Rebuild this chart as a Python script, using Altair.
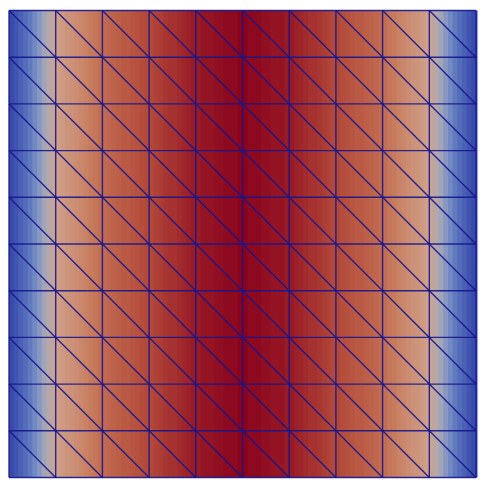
import altair as alt
import pandas as pd

# grid node positions (unit square, 10x10 cells)
grid_nodes = [0.0, 0.1, 0.2, 0.3, 0.4, 0.5, 0.6, 0.7, 0.8, 0.9, 1.0]

# colour-field value read across the square (strips of width 0.01, left to right)
field_values = [
    0.03, 0.09, 0.16, 0.22, 0.28, 0.34, 0.40, 0.47, 0.53, 0.59,
    0.63, 0.65, 0.67, 0.68, 0.70, 0.72, 0.74, 0.76, 0.77, 0.79,
    0.80, 0.81, 0.82, 0.83, 0.84, 0.84, 0.85, 0.86, 0.87, 0.88,
    0.88, 0.89, 0.90, 0.91, 0.92, 0.92, 0.93, 0.94, 0.95, 0.96,
    0.96, 0.97, 0.97, 0.97, 0.98, 0.98, 0.99, 0.99, 0.99, 1.00,
    1.00, 0.99, 0.99, 0.99, 0.98, 0.98, 0.97, 0.97, 0.97, 0.96,
    0.96, 0.95, 0.94, 0.93, 0.92, 0.92, 0.91, 0.90, 0.89, 0.88,
    0.88, 0.87, 0.86, 0.85, 0.84, 0.84, 0.83, 0.82, 0.81, 0.80,
    0.79, 0.77, 0.76, 0.74, 0.72, 0.70, 0.68, 0.67, 0.65, 0.63,
    0.59, 0.53, 0.47, 0.40, 0.34, 0.28, 0.22, 0.16, 0.09, 0.03,
]

strip_width = 1.0 / len(field_values)
strips = pd.DataFrame({
    "x0": [i * strip_width for i in range(len(field_values))],
    "x1": [(i + 1) * strip_width for i in range(len(field_values))],
    "v": field_values,
})

# mesh edges: horizontal, vertical, diagonal (top-left to bottom-right of each cell)
edges = []
for g in grid_nodes:
    edges.append({"x": g, "y": 0.0, "x2": g, "y2": 1.0})
    edges.append({"x": 0.0, "y": g, "x2": 1.0, "y2": g})
for i in range(len(grid_nodes) - 1):
    for j in range(len(grid_nodes) - 1):
        edges.append({"x": grid_nodes[i], "y": grid_nodes[j + 1],
                      "x2": grid_nodes[i + 1], "y2": grid_nodes[j]})
edges = pd.DataFrame(edges)

xs = alt.Scale(domain=[0, 1], nice=False, zero=False)
ys = alt.Scale(domain=[0, 1], nice=False, zero=False)

cscale = alt.Scale(
    domain=[0, 0.25, 0.375, 0.5, 0.625, 0.75, 0.875, 1.0],
    range=["#3444aa", "#5872bc", "#7e92c6", "#adabb4", "#cfa08c",
           "#c97f60", "#b44b3b", "#8a031d"],
    interpolate="rgb",
)

field = alt.Chart(strips).mark_rect(strokeWidth=0, x2Offset=1.5).encode(
    x=alt.X("x0:Q", scale=xs, axis=None),
    x2="x1:Q",
    y=alt.value(0),
    y2=alt.value(470),
    color=alt.Color("v:Q", scale=cscale, legend=None),
)

mesh = alt.Chart(edges).mark_rule(color="#16168c", strokeWidth=1.4, opacity=0.9).encode(
    x=alt.X("x:Q", scale=xs, axis=None),
    y=alt.Y("y:Q", scale=ys, axis=None),
    x2="x2:Q",
    y2="y2:Q",
)

chart = alt.layer(field, mesh).properties(
    width=470, height=470, padding=0
).configure_view(stroke=None)

chart.save("out.html", embed_options={"renderer": "svg", "actions": False})
